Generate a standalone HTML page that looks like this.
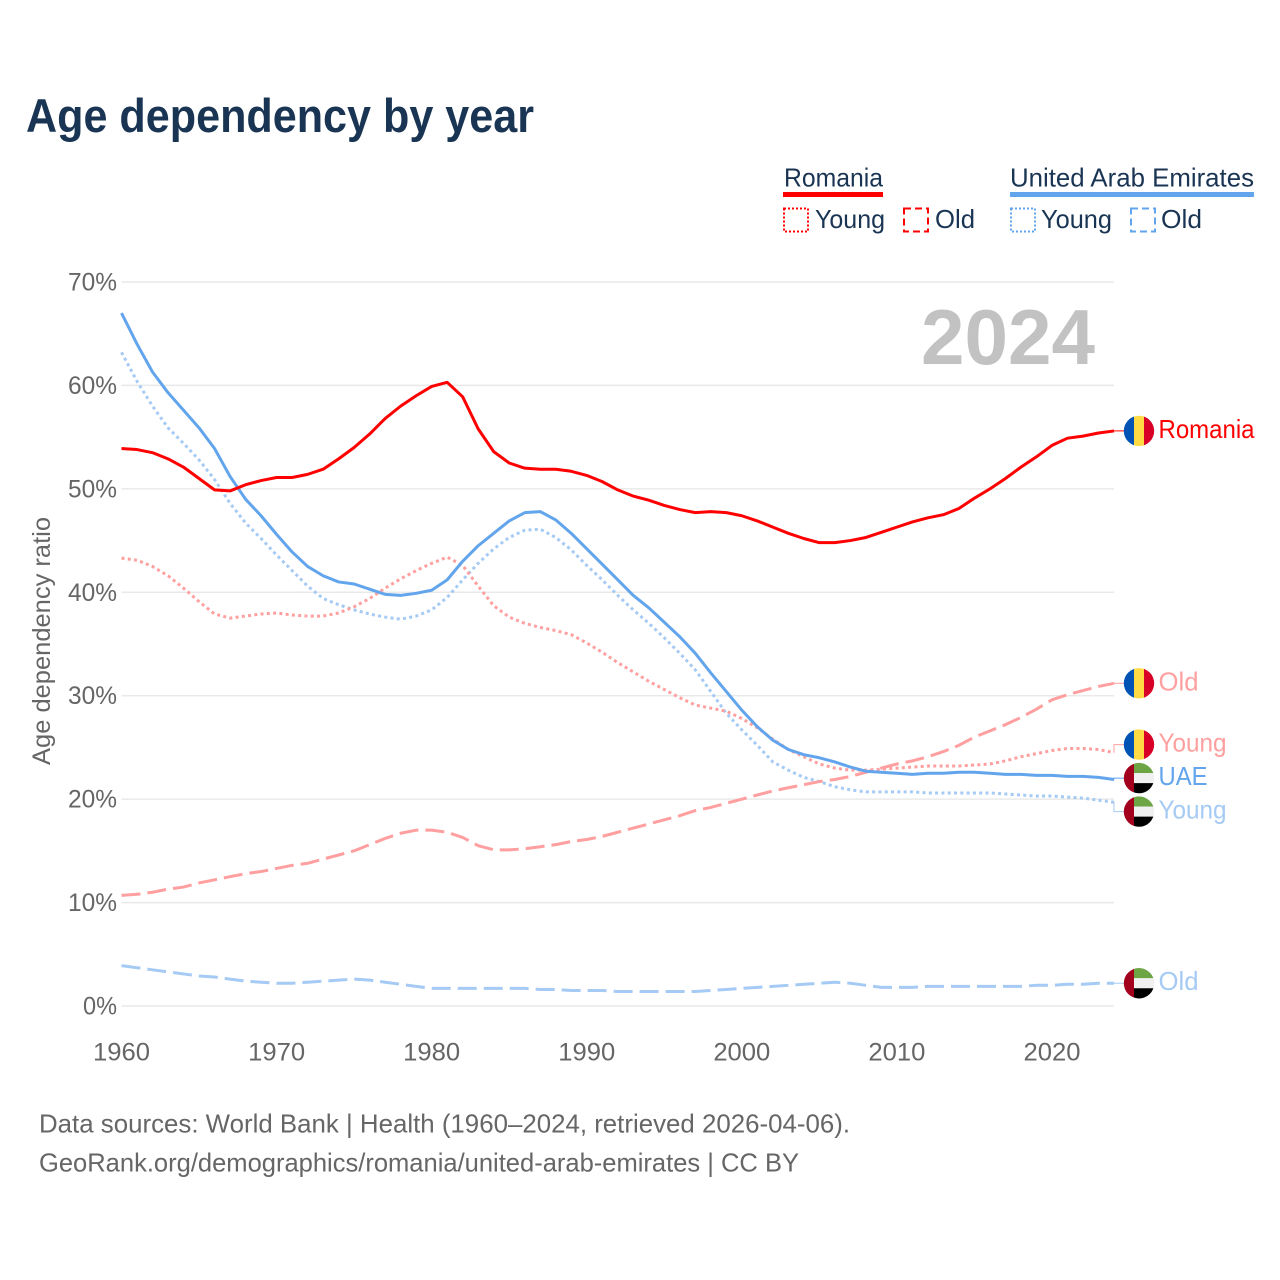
<!DOCTYPE html>
<html lang="en">
<head>
<meta charset="utf-8">
<title>Age dependency by year</title>
<style>
  html, body { margin: 0; padding: 0; background: #fff; }
  svg { display: block; font-family: "Liberation Sans", sans-serif; }
</style>
</head>
<body>
<svg id="chart" xmlns="http://www.w3.org/2000/svg" width="1280" height="1280" viewBox="0 0 1280 1280">
  <defs>
    <clipPath id="flag-clip"><circle cx="0" cy="0" r="15.2"/></clipPath>
  </defs>
  <rect width="1280" height="1280" fill="#fff"/>

  <text x="26" y="132" font-size="47" font-weight="700" fill="#1a3554" textLength="508" lengthAdjust="spacingAndGlyphs">Age dependency by year</text>

  <g font-size="26" fill="#1a3554">
    <text x="784" y="186.500" textLength="99" lengthAdjust="spacingAndGlyphs">Romania</text>
    <rect x="783" y="192" width="100" height="5" fill="#ff0000"/>
    <rect x="784" y="208.500" width="24" height="23" fill="none" stroke="#ff0000" stroke-width="2" stroke-dasharray="2 2"/>
    <text x="815" y="228" textLength="70" lengthAdjust="spacingAndGlyphs">Young</text>
    <rect x="904" y="208.500" width="24" height="23" fill="none" stroke="#ff0000" stroke-width="2" stroke-dasharray="7 4"/>
    <text x="935" y="228" textLength="40" lengthAdjust="spacingAndGlyphs">Old</text>

    <text x="1010" y="186.500" textLength="244" lengthAdjust="spacingAndGlyphs">United Arab Emirates</text>
    <rect x="1010" y="192" width="244" height="5" fill="#62a5ec"/>
    <rect x="1011" y="208.500" width="24" height="23" fill="none" stroke="#62a5ec" stroke-width="2" stroke-dasharray="2 2"/>
    <text x="1041" y="228" textLength="71" lengthAdjust="spacingAndGlyphs">Young</text>
    <rect x="1131" y="208.500" width="24" height="23" fill="none" stroke="#62a5ec" stroke-width="2" stroke-dasharray="7 4"/>
    <text x="1161" y="228" textLength="41" lengthAdjust="spacingAndGlyphs">Old</text>
  </g>

  <g id="grid"></g>
  <g id="y-labels" font-size="25" fill="#666"></g>
  <g id="x-labels" font-size="25" fill="#666"></g>

  <text transform="translate(50 641) rotate(-90)" text-anchor="middle" font-size="25" fill="#666" textLength="248" lengthAdjust="spacingAndGlyphs">Age dependency ratio</text>

  <text x="921" y="364" font-size="78" font-weight="700" fill="#c2c2c2" textLength="174" lengthAdjust="spacingAndGlyphs">2024</text>

  <g id="series" fill="none"></g>
  <g id="end-labels"></g>

  <g font-size="26" fill="#666">
    <text x="39" y="1132.500" textLength="811" lengthAdjust="spacingAndGlyphs">Data sources: World Bank | Health (1960–2024, retrieved 2026-04-06).</text>
    <text x="39" y="1171.500" textLength="760" lengthAdjust="spacingAndGlyphs">GeoRank.org/demographics/romania/united-arab-emirates | CC BY</text>
  </g>
</svg>

<script>
const startYear = 1960;
const endYear = 2024;
const yTickValues = [0, 10, 20, 30, 40, 50, 60, 70];
const xTickValues = [1960, 1970, 1980, 1990, 2000, 2010, 2020];

const romaniaTotal = [53.9,53.8,53.5,52.9,52.1,51.0,49.9,49.8,50.4,50.8,51.1,51.1,51.4,51.9,52.9,54.0,55.3,56.8,58.0,59.0,59.9,60.3,58.9,55.8,53.6,52.5,52.0,51.9,51.9,51.7,51.3,50.7,49.9,49.3,48.9,48.4,48.0,47.7,47.8,47.7,47.4,46.9,46.3,45.7,45.2,44.8,44.8,45.0,45.3,45.8,46.3,46.8,47.2,47.5,48.1,49.1,50.0,51.0,52.1,53.1,54.2,54.9,55.1,55.4,55.6];
const romaniaYoung = [43.3,43.1,42.5,41.6,40.4,39.1,37.9,37.5,37.7,37.9,38.0,37.8,37.7,37.7,38.0,38.6,39.4,40.4,41.3,42.1,42.8,43.4,42.6,40.6,38.7,37.6,37.0,36.6,36.3,35.9,35.1,34.2,33.2,32.3,31.4,30.6,29.8,29.1,28.8,28.5,27.8,26.9,25.8,24.8,24.1,23.4,23.0,22.8,22.8,22.9,23.0,23.1,23.2,23.2,23.2,23.3,23.4,23.7,24.1,24.4,24.7,24.9,24.9,24.8,24.5];
const romaniaOld = [10.7,10.8,11.0,11.3,11.5,11.9,12.2,12.5,12.8,13.0,13.3,13.6,13.8,14.2,14.6,15.0,15.6,16.2,16.7,17.0,17.0,16.8,16.3,15.5,15.1,15.1,15.2,15.4,15.6,15.9,16.1,16.4,16.8,17.2,17.6,18.0,18.4,18.9,19.2,19.6,20.0,20.4,20.8,21.1,21.4,21.7,21.9,22.2,22.6,23.0,23.4,23.7,24.1,24.6,25.2,26.0,26.6,27.2,27.9,28.7,29.6,30.1,30.5,30.9,31.2];
const uaeTotal = [67.0,64.0,61.3,59.3,57.6,55.9,53.9,51.2,49.0,47.4,45.6,43.9,42.5,41.6,41.0,40.8,40.3,39.8,39.7,39.9,40.2,41.2,43.0,44.5,45.7,46.9,47.7,47.8,47.0,45.7,44.2,42.7,41.2,39.7,38.5,37.1,35.7,34.1,32.2,30.4,28.6,27.0,25.7,24.8,24.3,24.0,23.6,23.1,22.7,22.6,22.5,22.4,22.5,22.5,22.6,22.6,22.5,22.4,22.4,22.3,22.3,22.2,22.2,22.1,21.9];
const uaeYoung = [63.2,60.4,58.0,55.9,54.4,52.8,50.9,48.6,46.7,45.2,43.6,42.1,40.6,39.4,38.8,38.3,37.9,37.6,37.4,37.7,38.3,39.5,41.2,42.8,44.2,45.3,46.0,46.1,45.3,44.1,42.6,41.2,39.7,38.3,37.0,35.6,34.1,32.5,30.4,28.3,26.7,25.2,23.6,22.8,22.1,21.7,21.2,20.9,20.7,20.7,20.7,20.7,20.6,20.6,20.6,20.6,20.6,20.5,20.4,20.3,20.3,20.2,20.1,19.9,19.7];
const uaeOld = [3.9,3.7,3.5,3.3,3.1,2.9,2.8,2.6,2.4,2.3,2.2,2.2,2.3,2.4,2.5,2.6,2.5,2.3,2.1,1.9,1.7,1.7,1.7,1.7,1.7,1.7,1.7,1.6,1.6,1.5,1.5,1.5,1.4,1.4,1.4,1.4,1.4,1.4,1.5,1.6,1.7,1.8,1.9,2.0,2.1,2.2,2.3,2.2,2.0,1.8,1.8,1.8,1.9,1.9,1.9,1.9,1.9,1.9,1.9,2.0,2.0,2.1,2.1,2.2,2.2];

const SVG_NS = 'http://www.w3.org/2000/svg';
const PLOT_LEFT = 121.5, PLOT_RIGHT = 1114, Y_ZERO = 1006, Y_SEVENTY = 282;
function xScale(year) { return PLOT_LEFT + (year - startYear) * (PLOT_RIGHT - PLOT_LEFT) / (endYear - startYear); }
function yScale(v) { return Y_ZERO + v * (Y_SEVENTY - Y_ZERO) / 70; }
function mk(tag, parent) { const el = document.createElementNS(SVG_NS, tag); parent.appendChild(el); return el; }

const gridG = document.getElementById('grid');
const yLabelG = document.getElementById('y-labels');
const xLabelG = document.getElementById('x-labels');

yTickValues.forEach(function (v) {
  const line = mk('line', gridG);
  
  
  line.setAttribute('x1', PLOT_LEFT);
  line.setAttribute('x2', PLOT_RIGHT);
  line.setAttribute('y1', yScale(v));
  line.setAttribute('y2', yScale(v));
  line.setAttribute('stroke', '#e9e9e9');
  line.setAttribute('stroke-width', '1.5');
  const t = mk('text', yLabelG);
  
  
  t.setAttribute('x', 117);
  t.setAttribute('y', yScale(v) + 8.5);
  t.setAttribute('text-anchor', 'end');
  t.setAttribute('textLength', v === 0 ? 34 : 49);
  t.setAttribute('lengthAdjust', 'spacingAndGlyphs');
  t.textContent = v + '%';
});

xTickValues.forEach(function (year) {
  const t = mk('text', xLabelG);
  
  
  t.setAttribute('x', xScale(year));
  t.setAttribute('y', 1060.7);
  t.setAttribute('text-anchor', 'middle');
  t.setAttribute('textLength', 57);
  t.setAttribute('lengthAdjust', 'spacingAndGlyphs');
  t.textContent = year;
});

const seriesList = [
  { id: 'uae-old', values: uaeOld, color: '#a5caf4', dash: '19 7', label: 'Old', flag: 'uae', width: 40 },
  { id: 'uae-young', values: uaeYoung, color: '#a5caf4', dash: '3 3.3', label: 'Young', flag: 'uae', width: 68 },
  { id: 'romania-old', values: romaniaOld, color: '#ff9f9f', dash: '19 7', label: 'Old', flag: 'romania', width: 40 },
  { id: 'romania-young', values: romaniaYoung, color: '#ff9f9f', dash: '3 3.3', label: 'Young', flag: 'romania', width: 68 },
  { id: 'uae-total', values: uaeTotal, color: '#62a5ec', dash: '', label: 'UAE', flag: 'uae', width: 49 },
  { id: 'romania-total', values: romaniaTotal, color: '#ff0000', dash: '', label: 'Romania', flag: 'romania', width: 96 }
];

const seriesG = document.getElementById('series');
seriesList.forEach(function (s) {
  const p = mk('path', seriesG);
  
  
  p.setAttribute('d', s.values.map(function (v, i) {
    return (i ? 'L' : 'M') + xScale(startYear + i).toFixed(2) + ' ' + yScale(v).toFixed(2);
  }).join(''));
  p.setAttribute('stroke', s.color);
  p.setAttribute('stroke-width', '3');
  p.setAttribute('stroke-linejoin', 'round');
  if (s.dash) p.setAttribute('stroke-dasharray', s.dash);
});

/* End-label placement: keep labels at their line's end value, pushing colliding ones apart. */
const LABEL_GAP = 33.5;
function placeLabels(items) {
  const sorted = items.slice().sort(function (a, b) { return a.target - b.target; });
  let clusters = sorted.map(function (it) { return { items: [it], mean: it.target }; });
  let merged = true;
  while (merged) {
    merged = false;
    for (let i = 0; i < clusters.length - 1; i++) {
      const a = clusters[i], b = clusters[i + 1];
      const aEnd = a.mean + (a.items.length - 1) * LABEL_GAP / 2;
      const bStart = b.mean - (b.items.length - 1) * LABEL_GAP / 2;
      if (bStart - aEnd < LABEL_GAP) {
        const all = a.items.concat(b.items);
        clusters.splice(i, 2, { items: all, mean: all.reduce(function (m, it) { return m + it.target; }, 0) / all.length });
        merged = true;
        break;
      }
    }
  }
  clusters.forEach(function (c) {
    c.items.forEach(function (it, i) { it.y = c.mean + (i - (c.items.length - 1) / 2) * LABEL_GAP; });
  });
}

function drawFlag(parent, kind, cy) {
  const g = mk('g', parent);
  
  
  g.setAttribute('transform', 'translate(1139 ' + cy + ')');
  g.setAttribute('clip-path', 'url(#flag-clip)');
  function band(x, y, w, h, fill) {
    const r = mk('rect', g);
    r.setAttribute('x', x);
    r.setAttribute('y', y);
    r.setAttribute('width', w);
    r.setAttribute('height', h);
    r.setAttribute('fill', fill);
  }
  if (kind === 'romania') {
    band(-16, -16, 11, 32, '#0052b4');
    band(-5, -16, 10, 32, '#ffda44');
    band(5, -16, 11, 32, '#d80027');
  } else {
    band(-5, -16, 21, 11, '#6da544');
    band(-5, -5, 21, 10, '#f0f0f0');
    band(-5, 5, 21, 11, '#000000');
    band(-16, -16, 11, 32, '#a2001d');
  }
}

const labelItems = seriesList.map(function (s) {
  return { s: s, target: yScale(s.values[s.values.length - 1]), y: 0 };
});
placeLabels(labelItems);

const endG = document.getElementById('end-labels');
labelItems.forEach(function (it) {
  const conn = mk('path', endG);
  
  
  conn.setAttribute('d', 'M' + PLOT_RIGHT + ' ' + it.target.toFixed(1) + 'L' + PLOT_RIGHT + ' ' + it.y.toFixed(1) + 'L1124 ' + it.y.toFixed(1));
  conn.setAttribute('fill', 'none');
  conn.setAttribute('stroke', it.s.color);
  conn.setAttribute('stroke-width', '1');
  drawFlag(endG, it.s.flag, it.y);
  const t = mk('text', endG);
  
  
  t.setAttribute('x', 1158.5);
  t.setAttribute('y', it.y + 7);
  t.setAttribute('font-size', '26');
  t.setAttribute('fill', it.s.color);
  t.setAttribute('textLength', it.s.width);
  t.setAttribute('lengthAdjust', 'spacingAndGlyphs');
  t.textContent = it.s.label;
});
</script>
</body>
</html>
